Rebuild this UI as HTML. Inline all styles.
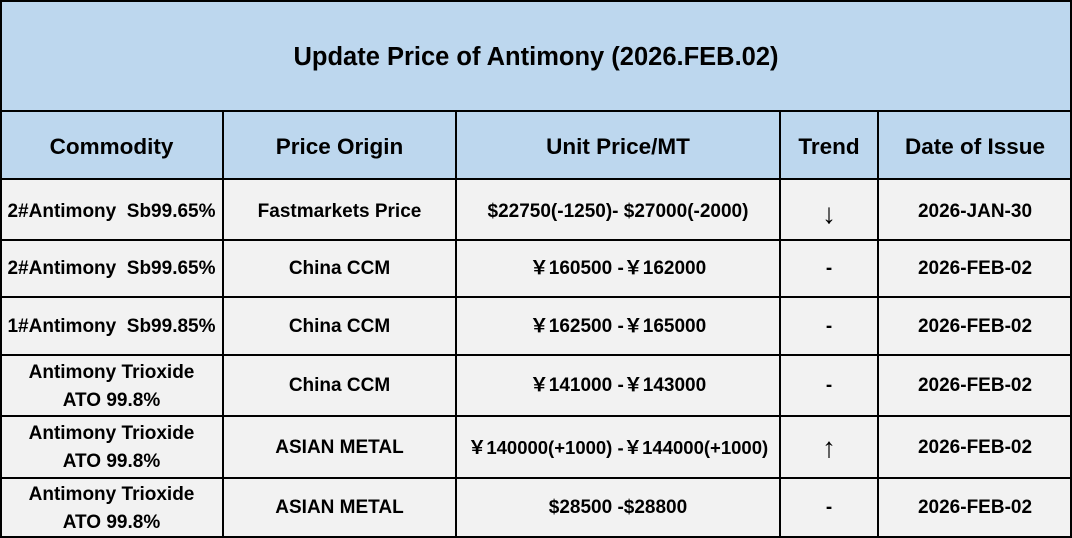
<!DOCTYPE html>
<html><head><meta charset="utf-8"><style>
body{margin:0;width:1072px;height:538px;overflow:hidden;background:#fff;font-family:"Liberation Sans","Noto Sans CJK SC",sans-serif;font-weight:bold;color:#000}
.c{position:absolute;display:flex;align-items:center;justify-content:center;text-align:center;box-sizing:border-box;line-height:1.3}
.l{position:absolute;background:#000}
.h{font-size:22.5px}
.b{font-size:19px}
.t{line-height:1.45}
</style></head><body>
<div class="c" style="left:0;top:2px;width:1072px;height:111px;background:#BDD7EE;font-size:25.5px">Update Price of Antimony (2026.FEB.02)</div>
<div class="c" style="left:0;top:111px;width:1072px;height:68px;background:#BDD7EE"></div>
<div class="c" style="left:0;top:179px;width:1072px;height:359px;background:#F2F2F2"></div>

<div class="c h" style="left:0;top:113px;width:223px;height:68px">Commodity</div>
<div class="c h" style="left:223px;top:113px;width:233px;height:68px">Price Origin</div>
<div class="c h" style="left:456px;top:113px;width:324px;height:68px">Unit Price/MT</div>
<div class="c h" style="left:780px;top:113px;width:98px;height:68px">Trend</div>
<div class="c h" style="left:878px;top:113px;width:194px;height:68px">Date of Issue</div>

<div class="c b" style="left:0;top:182px;width:223px;height:61px">2#Antimony&nbsp; Sb99.65%</div>
<div class="c b" style="left:223px;top:182px;width:233px;height:61px">Fastmarkets Price</div>
<div class="c b" style="left:456px;top:182px;width:324px;height:61px">$22750(-1250)- $27000(-2000)</div>
<div class="c" style="left:780px;top:184px;width:98px;height:61px;font-size:28px;font-weight:normal">↓</div>
<div class="c b" style="left:878px;top:182px;width:194px;height:61px">2026-JAN-30</div>

<div class="c b" style="left:0;top:241px;width:223px;height:57px">2#Antimony&nbsp; Sb99.65%</div>
<div class="c b" style="left:223px;top:241px;width:233px;height:57px">China CCM</div>
<div class="c b" style="left:456px;top:241px;width:324px;height:57px">￥160500 -￥162000</div>
<div class="c b" style="left:780px;top:241px;width:98px;height:57px">-</div>
<div class="c b" style="left:878px;top:241px;width:194px;height:57px">2026-FEB-02</div>

<div class="c b" style="left:0;top:298px;width:223px;height:58px">1#Antimony&nbsp; Sb99.85%</div>
<div class="c b" style="left:223px;top:298px;width:233px;height:58px">China CCM</div>
<div class="c b" style="left:456px;top:298px;width:324px;height:58px">￥162500 -￥165000</div>
<div class="c b" style="left:780px;top:298px;width:98px;height:58px">-</div>
<div class="c b" style="left:878px;top:298px;width:194px;height:58px">2026-FEB-02</div>

<div class="c b t" style="left:0;top:356px;width:223px;height:61px">Antimony Trioxide<br>ATO 99.8%</div>
<div class="c b" style="left:223px;top:356px;width:233px;height:61px">China CCM</div>
<div class="c b" style="left:456px;top:356px;width:324px;height:61px">￥141000 -￥143000</div>
<div class="c b" style="left:780px;top:356px;width:98px;height:61px">-</div>
<div class="c b" style="left:878px;top:356px;width:194px;height:61px">2026-FEB-02</div>

<div class="c b t" style="left:0;top:417px;width:223px;height:62px">Antimony Trioxide<br>ATO 99.8%</div>
<div class="c b" style="left:223px;top:417px;width:233px;height:62px">ASIAN METAL</div>
<div class="c b" style="left:456px;top:417px;width:324px;height:62px;font-size:18.5px">￥140000(+1000) -￥144000(+1000)</div>
<div class="c" style="left:780px;top:417px;width:98px;height:62px;font-size:28px;font-weight:normal">↑</div>
<div class="c b" style="left:878px;top:417px;width:194px;height:62px">2026-FEB-02</div>

<div class="c b t" style="left:0;top:479px;width:223px;height:59px">Antimony Trioxide<br>ATO 99.8%</div>
<div class="c b" style="left:223px;top:479px;width:233px;height:59px">ASIAN METAL</div>
<div class="c b" style="left:456px;top:479px;width:324px;height:59px">$28500 -$28800</div>
<div class="c b" style="left:780px;top:479px;width:98px;height:59px">-</div>
<div class="c b" style="left:878px;top:479px;width:194px;height:59px">2026-FEB-02</div>

<div class="l" style="left:0;top:0;width:1072px;height:2px"></div>
<div class="l" style="left:0;top:110px;width:1072px;height:2px"></div>
<div class="l" style="left:0;top:178px;width:1072px;height:2px"></div>
<div class="l" style="left:0;top:239px;width:1072px;height:2px"></div>
<div class="l" style="left:0;top:296px;width:1072px;height:2px"></div>
<div class="l" style="left:0;top:354px;width:1072px;height:2px"></div>
<div class="l" style="left:0;top:415px;width:1072px;height:2px"></div>
<div class="l" style="left:0;top:477px;width:1072px;height:2px"></div>
<div class="l" style="left:0;top:536px;width:1072px;height:2px"></div>
<div class="l" style="left:0;top:0;width:2px;height:538px"></div>
<div class="l" style="left:1070px;top:0;width:2px;height:538px"></div>
<div class="l" style="left:222px;top:110px;width:2px;height:428px"></div>
<div class="l" style="left:455px;top:110px;width:2px;height:428px"></div>
<div class="l" style="left:779px;top:110px;width:2px;height:428px"></div>
<div class="l" style="left:877px;top:110px;width:2px;height:428px"></div>
</body></html>
